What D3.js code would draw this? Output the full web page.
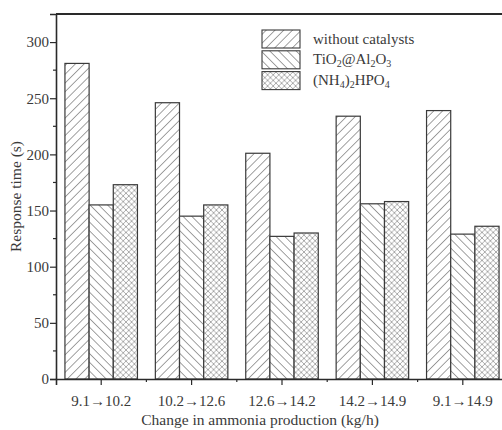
<!DOCTYPE html>
<html>
<head>
<meta charset="utf-8">
<script src="https://cdn.jsdelivr.net/npm/d3@7"></script>
<style>
  html, body { margin: 0; padding: 0; background: #fff; }
  svg { display: block; }
  text { font-family: "Liberation Serif", "Times New Roman", serif; fill: #3a3a3a; }
</style>
</head>
<body>
<svg id="chart" width="502" height="430"></svg>
<script>
// Categories (change in ammonia production, kg/h)
const categories = ["9.1\u219210.2", "10.2\u219212.6", "12.6\u219214.2", "14.2\u219214.9", "9.1\u219214.9"];
// Series
const seriesKeys = ["without", "tio2", "nh4"];
const withoutCatalysts = [281, 246, 201, 234, 239];
const tio2Al2o3 = [155, 145, 127, 156, 129];
const nh4Hpo4 = [173, 155, 130, 158, 136];
const yTicks = [0, 50, 100, 150, 200, 250, 300];
const yMinorTicks = [25, 75, 125, 175, 225, 275];

const seriesValues = [withoutCatalysts, tio2Al2o3, nh4Hpo4];

const svg = d3.select("#chart");
const x0 = 56, x1 = 508;
const yTop = 14, yBot = 379;

const x = d3.scaleBand().domain(categories).range([x0, x1]).paddingInner(0).paddingOuter(0);
const xs = d3.scaleBand().domain(seriesKeys).range([0, x.bandwidth()]).paddingInner(0).paddingOuter(0.37);
const y = d3.scaleLinear().domain([0, 325]).range([yBot, yTop]);

// Hatch patterns: parallel lines rotated into place
const defs = svg.append("defs");
const hatchColor = "#969696";
function linePattern(id, gap, angle, width) {
  const p = defs.append("pattern").attr("id", id).attr("patternUnits", "userSpaceOnUse")
    .attr("width", gap).attr("height", gap)
    .attr("patternTransform", `rotate(${angle})`);
  p.append("rect").attr("width", gap).attr("height", gap).attr("fill", "#fff");
  p.append("line").attr("x1", gap / 2).attr("x2", gap / 2).attr("y1", -1).attr("y2", gap + 1)
    .attr("stroke", hatchColor).attr("stroke-width", width);
}
linePattern("p-without", 6.2, 45, 0.9);
linePattern("p-tio2", 6.2, -45, 0.9);
// Cross-hatch
(function () {
  const s = 5.6;
  const p = defs.append("pattern").attr("id", "p-nh4").attr("patternUnits", "userSpaceOnUse")
    .attr("width", s).attr("height", s);
  p.append("rect").attr("width", s).attr("height", s).attr("fill", "#fff");
  p.append("path").attr("d", `M0,0 L${s},${s} M0,${s} L${s},0`)
    .attr("stroke", hatchColor).attr("stroke-width", 0.8).attr("fill", "none");
})();
const fills = { without: "url(#p-without)", tio2: "url(#p-tio2)", nh4: "url(#p-nh4)" };

// Bars
const groups = svg.append("g").selectAll("g").data(categories).join("g")
  .attr("transform", d => `translate(${x(d)},0)`);
groups.selectAll("rect")
  .data((c, i) => seriesKeys.map((k, j) => ({ key: k, value: seriesValues[j][i] })))
  .join("rect")
  .attr("x", d => xs(d.key))
  .attr("y", d => y(d.value))
  .attr("width", xs.bandwidth())
  .attr("height", d => yBot - y(d.value))
  .attr("fill", d => fills[d.key])
  .attr("stroke", "#3a3a3a")
  .attr("stroke-width", 1.2);

// Frame (top and right)
svg.append("path")
  .attr("d", `M${x0},${yTop} L${x1},${yTop} L${x1},${yBot}`)
  .attr("fill", "none").attr("stroke", "#2a2a2a").attr("stroke-width", 2);

// Y axis
const yAxis = svg.append("g").attr("transform", `translate(${x0},0)`)
  .call(d3.axisLeft(y).tickValues(yTicks).tickSize(6).tickPadding(1).tickFormat(d3.format("d")));
yAxis.selectAll(".tick text").attr("font-size", 15).attr("font-family", "Liberation Serif").attr("fill", "#444");
svg.append("g").attr("transform", `translate(${x0},0)`)
  .selectAll("line").data(yMinorTicks).join("line")
  .attr("x1", -3).attr("x2", 0).attr("y1", d => y(d)).attr("y2", d => y(d))
  .attr("stroke", "#2a2a2a").attr("stroke-width", 1.2);

// X axis
const xAxis = svg.append("g").attr("transform", `translate(0,${yBot})`)
  .call(d3.axisBottom(x).tickSize(6).tickPadding(10));
xAxis.selectAll(".tick text").attr("font-size", 15).attr("font-family", "Liberation Serif").attr("fill", "#444");
svg.append("g").attr("transform", `translate(0,${yBot})`)
  .selectAll("line").data(categories.slice(1)).join("line")
  .attr("x1", d => x(d)).attr("x2", d => x(d)).attr("y1", 0).attr("y2", 3)
  .attr("stroke", "#2a2a2a").attr("stroke-width", 1.2);

[yAxis, xAxis].forEach(a => {
  a.select(".domain").attr("stroke", "#2a2a2a").attr("stroke-width", 1.6);
  a.selectAll(".tick line").attr("stroke", "#2a2a2a").attr("stroke-width", 1.2);
});

// Axis titles
svg.append("text").attr("x", 260).attr("y", 425).attr("text-anchor", "middle")
  .attr("font-size", 15.5).text("Change in ammonia production (kg/h)");
svg.append("text").attr("transform", `translate(21,${(yTop + yBot) / 2}) rotate(-90)`)
  .attr("text-anchor", "middle").attr("font-size", 15.5).text("Response time (s)");

// Legend
const legendItems = [
  { key: "without", parts: [["without catalysts", 0]] },
  { key: "tio2", parts: [["TiO", 0], ["2", 1], ["@Al", 0], ["2", 1], ["O", 0], ["3", 1]] },
  { key: "nh4", parts: [["(NH", 0], ["4", 1], [")", 0], ["2", 1], ["HPO", 0], ["4", 1]] }
];
const lg = svg.append("g").attr("transform", "translate(262,30)");
legendItems.forEach((it, i) => {
  const gy = i * 20.8;
  lg.append("rect").attr("x", 0).attr("y", gy).attr("width", 38).attr("height", 18)
    .attr("fill", fills[it.key]).attr("stroke", "#3a3a3a").attr("stroke-width", 1.1);
  const t = lg.append("text").attr("x", 51).attr("y", gy + 13.5).attr("font-size", 15);
  let prevSub = false;
  it.parts.forEach(([s, sub]) => {
    const ts = t.append("tspan").text(s);
    if (sub) { ts.attr("font-size", 10); if (!prevSub) ts.attr("dy", 3); }
    else if (prevSub) ts.attr("dy", -3);
    prevSub = !!sub;
  });
});
</script>
</body>
</html>
